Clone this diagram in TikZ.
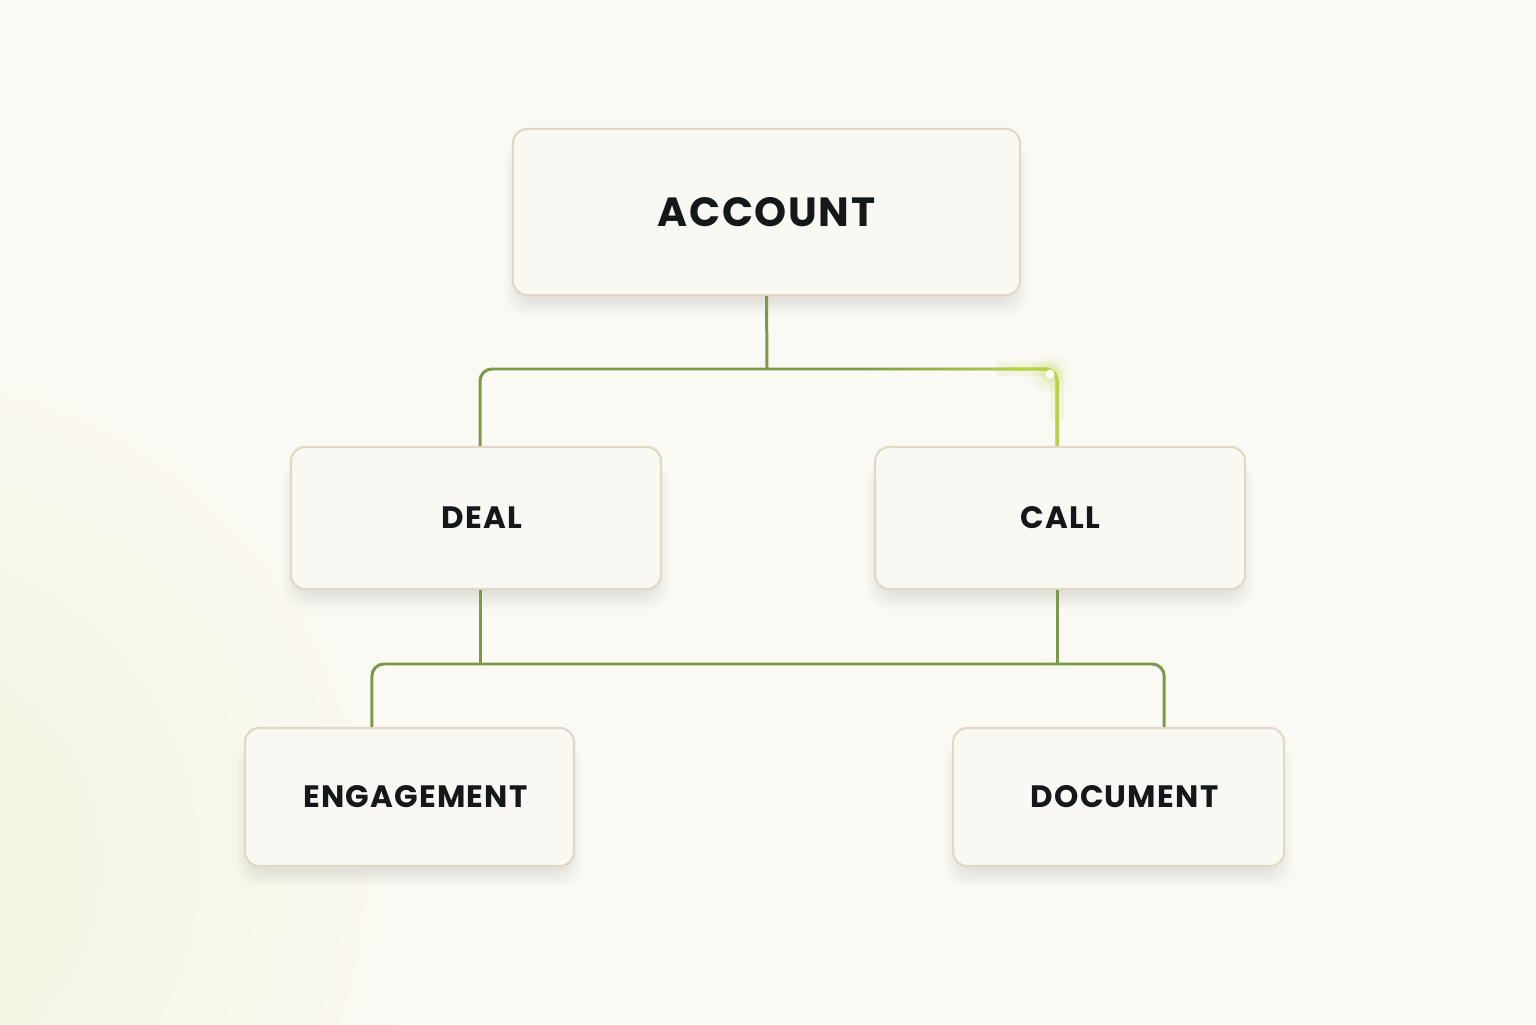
\documentclass[tikz,border=0pt]{standalone}
\usepackage{fontspec}
\usepackage{tikz}
\usetikzlibrary{positioning,calc,backgrounds}
\newfontfamily\boxfont[LetterSpace=4.0]{Poppins}
\definecolor{bgcream}{HTML}{FBF9F4}
\definecolor{boxfill}{HTML}{FAF8F3}
\definecolor{boxline}{HTML}{E2D8C6}
\definecolor{linkgreen}{HTML}{7A9A48}
\definecolor{limeglow}{HTML}{B5D63C}
\definecolor{tintgreen}{HTML}{F0F4DB}
\definecolor{inkblack}{HTML}{15181A}
\newcommand{\nudge}{\hspace*{0.12cm}}
\tikzset{
  entity/.style={rectangle,draw=boxline,line width=0.6pt,fill=boxfill,
                 rounded corners=4pt,text=inkblack,
                 font=\boxfont\bfseries\fontsize{8.8}{11}\selectfont,
                 align=center},
  link/.style={draw=linkgreen,line width=0.85pt,rounded corners=3.4pt},
  softshade/.style={fill=black,opacity=0.011,rounded corners=6pt},
}

\begin{document}
\begin{tikzpicture}[node distance=2.12cm]
  \useasboundingbox (0,0) rectangle (15.36,10.24);

  %% Entities
  \node[entity,minimum width=5.07cm,minimum height=1.66cm,
        font=\boxfont\bfseries\fontsize{11.6}{14}\selectfont]
    (account) at (7.665,8.12) {ACCOUNT};
  \node[entity,minimum width=3.70cm,minimum height=1.42cm]
    (deal) at (4.76,5.06) {\nudge DEAL};
  \node[entity,minimum width=3.70cm,minimum height=1.42cm,right=of deal]
    (call) {CALL};
  \node[entity,minimum width=3.29cm,minimum height=1.38cm]
    (engage) at (4.095,2.27) {\nudge ENGAGEMENT};
  \node[entity,minimum width=3.31cm,minimum height=1.38cm,right=3.77cm of engage]
    (document) {\nudge DOCUMENT};

  %% Background, tint and soft shadows
  \begin{scope}[on background layer]
    \fill[bgcream] (0,0) rectangle (15.36,10.24);
    \begin{scope}
      \clip (0,0) rectangle (15.36,10.24);
      \shade[inner color=tintgreen,outer color=bgcream] (-1.2,1.6) circle (5.4);
    \end{scope}
    \foreach \n in {account,deal,call,engage,document}{
      \foreach \k in {1,...,8}{
        \fill[softshade]
          ($(\n.south west)+(0.1-\k*0.022,-0.02-\k*0.022)$) rectangle
          ($(\n.north east)+(-0.1+\k*0.022,-0.25+\k*0.012)$);
      }
    }
  \end{scope}

  %% Buses
  \coordinate (topbus) at (7.67,6.55);
  \coordinate (lowbus) at (7.67,3.60);
  \coordinate (dealtop) at ($(deal.north)+(0.04,0)$);
  \coordinate (calltop) at ($(call.north)+(-0.03,0)$);
  \coordinate (dealbot) at ($(deal.south)+(0.04,0)$);
  \coordinate (callbot) at ($(call.south)+(-0.03,0)$);
  \coordinate (engtop) at ($(engage.north west)+(1.28,0)$);
  \coordinate (doctop) at ($(document.north east)+(-1.21,0)$);

  %% Account -> deal, call
  \draw[link] (account.south) -- (topbus);
  \draw[link] (dealtop) -- (dealtop |- topbus) -- (calltop |- topbus) -- (calltop);
  %% glowing branch
  \foreach \i in {0,...,11}{
    \pgfmathsetmacro{\mix}{\i*8}
    \draw[draw=limeglow!\mix!linkgreen,line width=0.85pt]
      ($(8.50,6.55)+(\i*0.14,0)$) -- ++(0.145,0);
  }
  \draw[limeglow,line width=4pt,opacity=0.12,rounded corners=3.4pt]
    ($(calltop |- topbus)+(-0.6,0)$) -- (calltop |- topbus) -- ++(0,-0.5);
  \draw[link,draw=limeglow] ($(calltop |- topbus)+(-0.46,0)$) -- (calltop |- topbus) -- (calltop);
  \coordinate (spark) at ($(calltop |- topbus)+(-0.07,-0.05)$);
  \foreach \r/\o in {0.2/0.06,0.14/0.09,0.09/0.14}{
    \fill[limeglow,opacity=\o] (spark) circle (\r);
  }
  \fill[white] (spark) circle (0.045);

  %% Deal, call -> engagement, document
  \draw[link] (dealbot) -- (dealbot |- lowbus);
  \draw[link] (callbot) -- (callbot |- lowbus);
  \draw[link] (engtop) -- (engtop |- lowbus) -- (doctop |- lowbus) -- (doctop);

\end{tikzpicture}
\end{document}
